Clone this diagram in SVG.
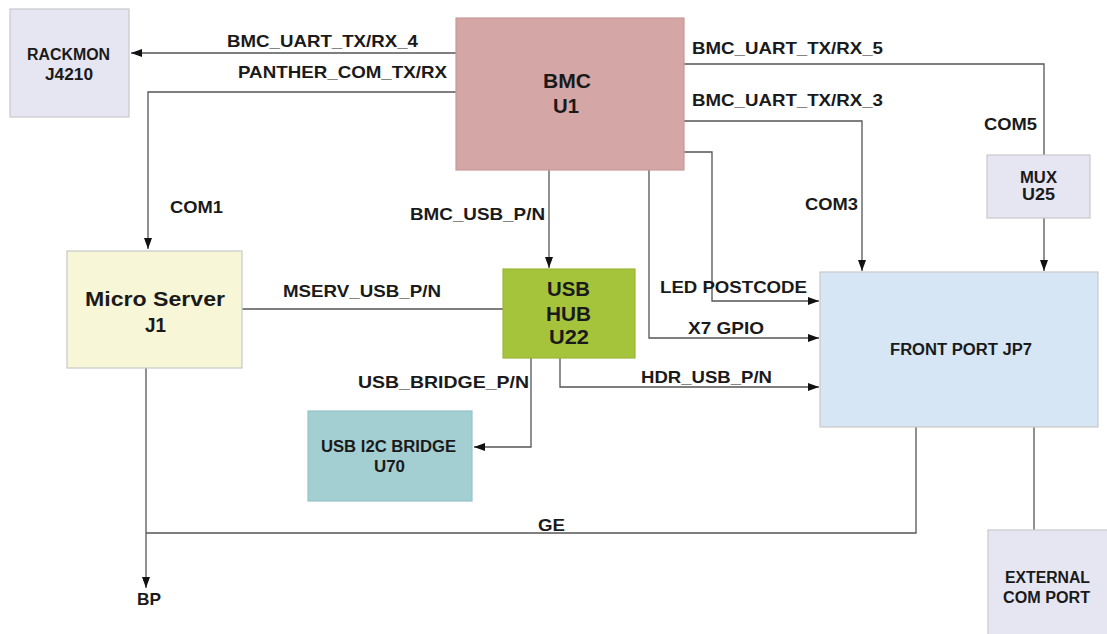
<svg xmlns="http://www.w3.org/2000/svg" width="1107" height="634" viewBox="0 0 1107 634">
<style>
.box{stroke:#c9c9c9;stroke-width:1.2}
.t{font-family:"Liberation Sans",Arial,sans-serif;font-weight:bold;fill:#1a1a1a}
.lbl{font-size:16.5px}
.big{font-size:21px}
.sm{font-size:16px}
.c{fill:none;stroke:#555;stroke-width:1.3}
</style>
<defs>
<marker id="ah" markerUnits="userSpaceOnUse" markerWidth="12" markerHeight="10" refX="11" refY="5" orient="auto">
<path d="M0,1 L11,5 L0,9 Z" fill="#111"/>
</marker>
</defs>
<rect width="1107" height="634" fill="#fff"/>
<g id="connectors">
<path class="c" d="M456,53 H131" marker-end="url(#ah)"/>
<path class="c" d="M456,92 H148 V249" marker-end="url(#ah)"/>
<path class="c" d="M684,64 H1044 V155"/>
<path class="c" d="M1044,218 V271" marker-end="url(#ah)"/>
<path class="c" d="M684,121 H862 V271" marker-end="url(#ah)"/>
<path class="c" d="M684,152 H712 V301 H819" marker-end="url(#ah)"/>
<path class="c" d="M649,170 V338 H819" marker-end="url(#ah)"/>
<path class="c" d="M549,170 V268" marker-end="url(#ah)"/>
<path class="c" d="M242,309 H503"/>
<path class="c" d="M560,358 V387 H819" marker-end="url(#ah)"/>
<path class="c" d="M531,358 V447 H474" marker-end="url(#ah)"/>
<path class="c" d="M146,368 V588" marker-end="url(#ah)"/>
<path class="c" d="M146,533 H916 V427"/>
<path class="c" d="M1034,427 V530"/>
<text class="t lbl" x="227" y="47" textLength="191" lengthAdjust="spacingAndGlyphs">BMC_UART_TX/RX_4</text>
<text class="t lbl" x="238" y="78" textLength="209" lengthAdjust="spacingAndGlyphs">PANTHER_COM_TX/RX</text>
<text class="t lbl" x="692" y="54" textLength="191" lengthAdjust="spacingAndGlyphs">BMC_UART_TX/RX_5</text>
<text class="t lbl" x="692" y="106" textLength="191" lengthAdjust="spacingAndGlyphs">BMC_UART_TX/RX_3</text>
<text class="t lbl" x="984" y="130" textLength="53" lengthAdjust="spacingAndGlyphs">COM5</text>
<text class="t lbl" x="805" y="210" textLength="53" lengthAdjust="spacingAndGlyphs">COM3</text>
<text class="t lbl" x="170" y="213" textLength="53" lengthAdjust="spacingAndGlyphs">COM1</text>
<text class="t lbl" x="410" y="220" textLength="135" lengthAdjust="spacingAndGlyphs">BMC_USB_P/N</text>
<text class="t lbl" x="283" y="297" textLength="158" lengthAdjust="spacingAndGlyphs">MSERV_USB_P/N</text>
<text class="t lbl" x="660" y="293" textLength="147" lengthAdjust="spacingAndGlyphs">LED POSTCODE</text>
<text class="t lbl" x="688" y="334" textLength="76" lengthAdjust="spacingAndGlyphs">X7 GPIO</text>
<text class="t lbl" x="641" y="383" textLength="131" lengthAdjust="spacingAndGlyphs">HDR_USB_P/N</text>
<text class="t lbl" x="358" y="388" textLength="171" lengthAdjust="spacingAndGlyphs">USB_BRIDGE_P/N</text>
<text class="t lbl" x="538" y="531" textLength="27" lengthAdjust="spacingAndGlyphs">GE</text>
<text class="t lbl" x="137" y="605" textLength="24" lengthAdjust="spacingAndGlyphs">BP</text>
</g>
<g id="rackmon">
<rect class="box" x="10" y="9" width="119" height="108" fill="#e6e6f3"/>
<text class="t sm" x="27" y="60" textLength="83" lengthAdjust="spacingAndGlyphs">RACKMON</text>
<text class="t sm" x="45" y="80" textLength="48" lengthAdjust="spacingAndGlyphs">J4210</text>
</g>
<g id="bmc">
<rect x="456" y="18" width="228" height="152" fill="#d5a6a6" stroke="#c99a9a" stroke-width="1.2"/>
<text class="t big" x="543" y="88" textLength="48" lengthAdjust="spacingAndGlyphs">BMC</text>
<text class="t big" x="553" y="113" textLength="26" lengthAdjust="spacingAndGlyphs">U1</text>
</g>
<g id="mux">
<rect class="box" x="987" y="155" width="103" height="63" fill="#e6e6f3"/>
<text class="t sm" x="1020" y="183" textLength="37" lengthAdjust="spacingAndGlyphs">MUX</text>
<text class="t sm" x="1022" y="200" textLength="33" lengthAdjust="spacingAndGlyphs">U25</text>
</g>
<g id="microserver">
<rect class="box" x="67" y="251" width="175" height="117" fill="#f7f6d7"/>
<text class="t big" x="85" y="306" textLength="140" lengthAdjust="spacingAndGlyphs">Micro Server</text>
<text class="t big" x="145" y="332" textLength="21" lengthAdjust="spacingAndGlyphs">J1</text>
</g>
<g id="usbhub">
<rect x="503" y="269" width="132" height="89" fill="#a5c43b" stroke="#9ab83a" stroke-width="1.2"/>
<text class="t big" x="547" y="296" textLength="43" lengthAdjust="spacingAndGlyphs">USB</text>
<text class="t big" x="546" y="321" textLength="45" lengthAdjust="spacingAndGlyphs">HUB</text>
<text class="t big" x="549" y="344" textLength="40" lengthAdjust="spacingAndGlyphs">U22</text>
</g>
<g id="frontport">
<rect class="box" x="820" y="272" width="278" height="155" fill="#d6e6f4"/>
<text class="t sm" x="890" y="355" textLength="142" lengthAdjust="spacingAndGlyphs">FRONT PORT JP7</text>
</g>
<g id="usbi2cbridge">
<rect x="308" y="411" width="164" height="90" fill="#a3ced2" stroke="#98c3c7" stroke-width="1.2"/>
<text class="t sm" x="321" y="452" textLength="135" lengthAdjust="spacingAndGlyphs">USB I2C BRIDGE</text>
<text class="t sm" x="374" y="472" textLength="31" lengthAdjust="spacingAndGlyphs">U70</text>
</g>
<g id="externalcomport">
<rect class="box" x="988" y="530" width="126" height="110" fill="#e6e6f3"/>
<text class="t sm" x="1005" y="583" textLength="85" lengthAdjust="spacingAndGlyphs">EXTERNAL</text>
<text class="t sm" x="1003" y="603" textLength="87" lengthAdjust="spacingAndGlyphs">COM PORT</text>
</g>
</svg>
